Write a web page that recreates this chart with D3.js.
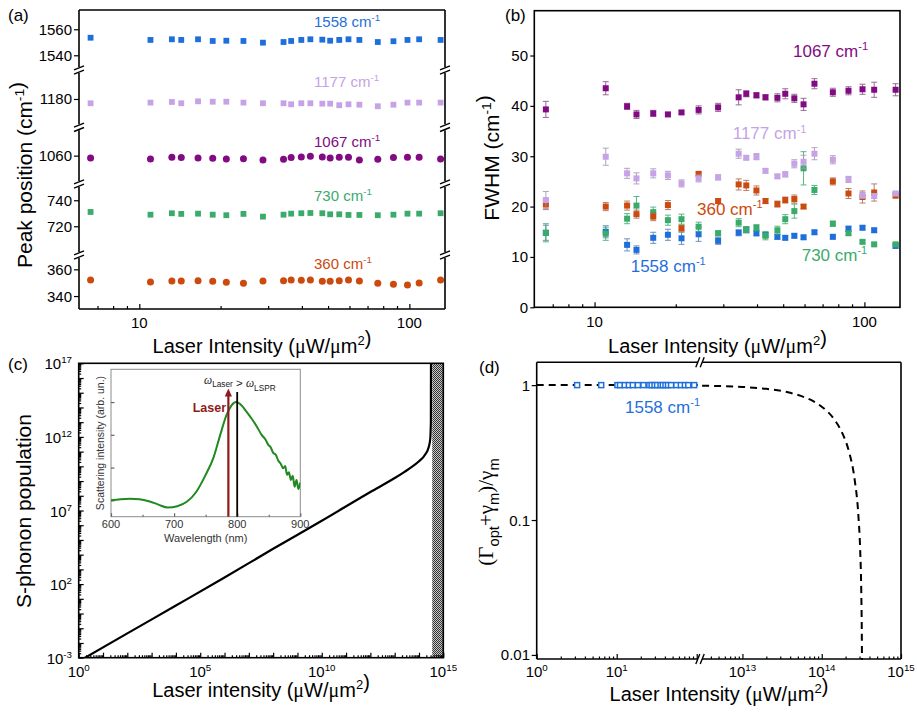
<!DOCTYPE html>
<html>
<head>
<meta charset="utf-8">
<script src="https://cdn.jsdelivr.net/npm/d3@7"></script>
<style>
  body { margin: 0; background: #fff; }
  svg { display: block; font-family: Arial, "Liberation Sans", sans-serif; }
</style>
</head>
<body>
<svg id="fig" width="917" height="713"></svg>
<script>
// ---- data ----
// laser intensities (uW/um^2) used in panels (a) and (b)
const intensity = [6.6, 11.0, 13.2, 14.3, 16.5, 18.7, 21.0, 24.3, 28.7, 34.2, 36.5, 39.8, 43.0, 47.6, 50.9, 55.0, 59.5, 65.3, 76.4, 87.3, 98.4, 108.7, 130.5]

// (a) peak positions (cm-1)
const pos1558 = [1553.5, 1551.8, 1552.3, 1551.8, 1552.3, 1551.0, 1551.2, 1551.0, 1549.7, 1550.2, 1551.0, 1551.8, 1552.3, 1552.0, 1551.2, 1551.8, 1552.3, 1551.8, 1550.2, 1550.8, 1551.8, 1552.3, 1551.8]
const pos1177 = [1176.7, 1177.2, 1177.7, 1176.7, 1178.2, 1177.9, 1177.9, 1177.2, 1176.7, 1176.7, 1175.9, 1176.7, 1176.7, 1176.4, 1176.4, 1175.2, 1175.9, 1175.6, 1174.4, 1175.6, 1177.2, 1177.2, 1177.2]
const pos1067 = [1058.2, 1057.5, 1058.8, 1058.5, 1058.2, 1058.0, 1057.5, 1057.7, 1056.7, 1057.2, 1058.5, 1059.0, 1059.5, 1059.0, 1058.2, 1058.8, 1058.8, 1056.7, 1057.2, 1058.5, 1058.8, 1058.8, 1057.5]
const pos730 = [731.0, 728.9, 730.0, 729.5, 729.7, 728.9, 728.5, 729.5, 727.4, 728.9, 729.7, 730.0, 730.2, 730.0, 729.2, 729.2, 728.7, 728.7, 728.5, 728.9, 729.7, 729.7, 730.0]
const pos360 = [352.0, 350.5, 351.2, 351.2, 351.5, 351.0, 350.3, 349.5, 351.2, 351.5, 352.0, 351.8, 352.0, 351.0, 351.0, 351.5, 352.0, 351.2, 349.5, 348.8, 348.2, 349.7, 352.0]
const peakTicks = [[1540, 1560], [1180], [1060], [720, 740], [340, 360]]

// (b) FWHM (cm-1) and error bars
const fw1067 = [39.3, 43.5, 39.9, 38.3, 38.5, 38.3, 38.7, 39.2, 39.7, 41.7, 42.4, 42.1, 41.7, 41.6, 42.4, 41.5, 40.3, 44.4, 42.7, 43.0, 43.3, 43.2, 43.2]
const err1067 = [1.6, 1.3, 0.6, 0.8, 0.6, 0.4, 0.3, 0.8, 0.8, 1.5, 0.6, 0.5, 0.5, 0.8, 1.0, 0.8, 1.2, 1.0, 0.8, 0.8, 1.0, 1.5, 1.2]
const fw1177 = [21.3, 29.9, 26.6, 25.6, 26.6, 26.2, 24.6, 25.6, 25.8, 30.5, 29.7, 29.9, 27.1, 26.0, 26.4, 28.5, 28.9, 30.5, 29.3, 25.4, 22.2, 22.1, 22.6]
const err1177 = [1.7, 1.7, 1.0, 1.1, 0.9, 0.8, 0.7, 0.7, 0.5, 0.9, 0.4, 0.6, 0.4, 0.4, 0.5, 0.8, 1.3, 1.2, 0.8, 0.6, 0.6, 0.5, 0.4]
const fw360 = [20.4, 20.0, 20.2, 18.5, 18.0, 20.3, 15.7, 26.5, 21.1, 24.4, 24.2, 23.2, 21.1, 20.5, 21.3, 21.5, 20.0, null, 25.0, 22.6, 21.9, 22.8, 22.2]
const err360 = [1.0, 0.8, 0.9, 0.8, 0.8, 0.9, 0.6, 0.4, 0.5, 1.1, 1.0, 0.9, 0.5, 0.6, 0.6, 0.8, 0.4, null, 0.7, 1.0, 1.2, 1.7, 0.5]
const fw730 = [14.8, 14.6, 17.6, 20.2, 18.9, 17.3, 17.5, 16.0, 14.7, 16.8, 15.4, 15.8, 14.2, 15.3, 17.5, 19.1, 27.6, 23.3, 16.6, 14.7, 13.0, 12.5, 12.5]
const err730 = [1.8, 1.3, 1.0, 1.8, 1.0, 1.0, 1.0, 0.9, 0.5, 0.8, 0.6, 0.6, 0.8, 0.8, 0.9, 1.4, 3.3, 0.9, 0.5, 0.4, 0.3, 0.3, 0.3]
const fw1558 = [14.8, 15.0, 12.4, 11.4, 13.8, 14.4, 13.7, 14.5, 13.2, 14.8, 15.4, 14.7, 14.4, 14.0, 13.8, 14.2, 13.9, 14.9, 14.0, 15.6, 15.8, 15.3, 12.2]
const err1558 = [1.5, 1.2, 1.2, 0.8, 1.1, 1.1, 1.2, 1.4, 0.7, 0.6, 0.6, 0.5, 0.5, 0.5, 0.4, 0.4, 0.4, 0.4, 0.4, 0.5, 0.4, 0.4, 0.5]
const fwhmTicks = [0, 10, 20, 30, 40, 50]

// (c) S-phonon population vs laser intensity
const popIntensity = [1, 1e2, 1e4, 1e6, 1e8, 1e10, 1e12, 1e13, 4e13, 1e14, 1.8e14, 2.5e14, 2.9e14, 3.08e14, 3.12e14]
const popValue = [5.6e-4, 0.045, 3.5, 280, 2.5e4, 2.0e6, 1.8e8, 1.6e9, 7.1e9, 2.2e10, 6.3e10, 2.0e11, 7.0e11, 1e13, 1e18]
const unstableFrom = 3.5e14
const popXExp = [0, 5, 10, 15]
const popYExp = [-3, 2, 7, 12, 17]

// (c) inset: scattering spectrum
const specWavelength = [600, 615, 630, 645, 660, 675, 690, 705, 720, 735, 750, 762, 773, 783, 791, 798, 807, 815, 823, 831, 839, 845, 849, 853, 857, 861, 865, 869, 873, 876, 879, 882, 885, 888, 891, 894, 897, 900]
const specIntensity = [10, 10.8, 11.2, 10.8, 9.4, 7.4, 6.0, 6.6, 9.0, 18, 60, 190, 980, 4000, 7900, 10000, 7900, 5000, 3100, 1800, 980, 710, 500, 420, 280, 250, 165, 130, 95, 112, 60, 72, 42, 56, 26, 42, 22, 35]
const laserWavelength = 786
const lsprWavelength = 800
const specTicks = [600, 700, 800, 900]

// (d) normalised linewidth
const ratioLowI = [1, 103]
const ratioLow = [1, 1]
const ratioHighI = [3.1e12, 1e13, 2e13, 4e13, 6e13, 8e13, 1e14, 1.4e14, 1.8e14, 2.2e14, 2.6e14, 2.9e14, 3.05e14, 3.15e14, 3.2e14, 3.22e14]
const ratioHigh = [0.990, 0.969, 0.938, 0.877, 0.815, 0.754, 0.692, 0.569, 0.446, 0.323, 0.2, 0.108, 0.0615, 0.0308, 0.0154, 0.0092]
const blueI = [3.2, 6.4, 10.2, 11.0, 12.6, 14.2, 15.9, 18.4, 21.6, 25.6, 27.3, 29.7, 32.0, 35.3, 37.7, 40.7, 43.8, 47.8, 55.7, 63.4, 71.2, 78.5, 93]
const blueRatio = [1, 1, 1, 1, 1, 1, 1, 1, 1, 1, 1, 1, 1, 1, 1, 1, 1, 1, 1, 1, 1, 1, 1]
const ratioTicks = [1, 0.1, 0.01]
const ratioTickLabels = ["1", "0.1", "0.01"]

const colors = { 1558: "#1f6fdb", 1177: "#c6a2e6", 1067: "#820a82", 730: "#3bab6c", 360: "#cc4a0e" }

// ---- helpers ----
const svg = d3.select("#fig")
const defs = svg.append("defs")

function rich(g, x, y, parts, size, opts = {}) {
  const t = g.append("text").attr("x", x).attr("y", y)
    .attr("font-size", size)
    .attr("text-anchor", opts.anchor || "start")
    .attr("fill", opts.color || "#000")
  if (opts.rotate) t.attr("transform", `rotate(-90,${x},${y})`)
  if (opts.weight) t.attr("font-weight", opts.weight)
  if (opts.family) t.attr("font-family", opts.family)
  let cur = 0
  parts.forEach(p => {
    const [s, kind, fam, style] = Array.isArray(p) ? p : [p, ""]
    const off = kind === "sup" ? -0.4 * size : kind === "sub" ? 0.3 * size : 0
    const ts = t.append("tspan").text(s).attr("dy", off - cur)
    if (kind) ts.attr("font-size", size * (opts.small || 0.65))
    if (fam) ts.attr("font-family", fam)
    if (style) ts.attr("font-style", style)
    cur = off
  })
  return t
}

function ticks(g, axis, scale, values, size, tx, ty, color = "#000") {
  const a = g.append("g").attr("transform", `translate(${tx},${ty})`)
    .call(axis(scale).tickValues(values).tickSize(size).tickSizeOuter(0).tickFormat(""))
  a.select(".domain").remove()
  a.selectAll("line").attr("stroke", color).attr("stroke-width", 1.2)
  return a
}

function logMinors(lo, hi) {
  const out = []
  for (let e = Math.floor(Math.log10(lo)); e <= Math.ceil(Math.log10(hi)); e++) {
    for (let k = 2; k <= 9; k++) {
      const v = k * Math.pow(10, e)
      if (v > lo * 1.001 && v < hi * 0.999) out.push(v)
    }
  }
  return out
}

function line(g, x1, y1, x2, y2, w = 1.6) {
  g.append("line").attr("x1", x1).attr("y1", y1).attr("x2", x2).attr("y2", y2)
    .attr("stroke", "#000").attr("stroke-width", w)
}

function breakMarkV(g, x, b) {
  // slanted "//" on a vertical axis
  [-2.2, 2.2].forEach(o => line(g, x - 5, b + o + 2, x + 5, b + o - 2, 1.4))
}
function breakMarkH(g, b, y) {
  [-2.2, 2.2].forEach(o => line(g, b + o - 2, y + 5, b + o + 2, y - 5, 1.4))
}

function marker(g, shape, x, y, size, fill, stroke, sw = 1.2) {
  if (shape === "circle") {
    g.append("circle").attr("cx", x).attr("cy", y).attr("r", size / 2 + 0.6)
      .attr("fill", fill).attr("stroke", stroke || "none")
  } else {
    g.append("rect").attr("x", x - size / 2).attr("y", y - size / 2)
      .attr("width", size).attr("height", size)
      .attr("fill", fill).attr("stroke", stroke || "none").attr("stroke-width", stroke ? sw : 0)
  }
}

const intensityTitle = ["Laser Intensity (", ["\u03bc", "", "'Liberation Serif', serif"], "W/", ["\u03bc", "", "'Liberation Serif', serif"], "m", ["2", "sup"], ["", ""], ")"]

// ---- panel (a): peak positions with broken y axis ----
const gA = svg.append("g")
const xA = d3.scaleLog().domain([5.98, 135.5]).range([79, 445])
const segRanges = [[67, 10], [124.3, 73], [181, 130.3], [252, 187], [309, 258]]
const segDomains = [[1531, 1574.8], [1160.5, 1200], [1040.5, 1079.5], [700.2, 750.2], [330.3, 368.5]]
const segScales = segDomains.map((d, i) => d3.scaleLinear().domain(d).range(segRanges[i]))

line(gA, 79, 10, 445, 10)
line(gA, 79, 309, 445, 309)
segRanges.forEach(r => {
  line(gA, 79, r[1], 79, r[0])
  line(gA, 445, r[1], 445, r[0])
})
for (let i = 0; i < 4; i++) {
  const b = (segRanges[i][0] + segRanges[i + 1][1]) / 2
  breakMarkV(gA, 79, b)
  breakMarkV(gA, 445, b)
}
segScales.forEach((s, i) => {
  ticks(gA, d3.axisLeft, s, peakTicks[i], 5, 79, 0)
  peakTicks[i].forEach(v => rich(gA, 72, s(v) + 5.5, [String(v)], 15, { anchor: "end" }))
})
ticks(gA, d3.axisBottom, xA, [10, 100], -5, 0, 309)
ticks(gA, d3.axisBottom, xA, logMinors(6.5, 135), -3, 0, 309)
;[10, 100].forEach(v => rich(gA, xA(v), 328, [String(v)], 15, { anchor: "middle" }))

const peakSeries = [
  { mode: 1558, data: pos1558, seg: 0, shape: "square" },
  { mode: 1177, data: pos1177, seg: 1, shape: "square" },
  { mode: 1067, data: pos1067, seg: 2, shape: "circle" },
  { mode: 730, data: pos730, seg: 3, shape: "square" },
  { mode: 360, data: pos360, seg: 4, shape: "circle" }
]
peakSeries.forEach(s => {
  s.data.forEach((v, i) => marker(gA, s.shape, xA(intensity[i]), segScales[s.seg](v), 5.8, colors[s.mode]))
})
const peakLabelY = [26.7, 87.3, 147.3, 201, 269]
peakSeries.forEach((s, i) => rich(gA, 314, peakLabelY[i], [s.mode + " cm", ["-1", "sup"]], 15, { color: colors[s.mode] }))

rich(gA, 262, 353, intensityTitle, 20, { anchor: "middle" })
rich(gA, 32, 175, ["Peak position (cm", ["-1", "sup"], ["", ""], ")"], 21, { anchor: "middle", rotate: true })
rich(gA, 8, 21, ["(a)"], 17)

// ---- panel (b): FWHM ----
const gB = svg.append("g")
const xB = xA.copy().range([534.3, 900])
const yB = d3.scaleLinear().domain([0, 58.9]).range([307.3, 10.7])
gB.append("rect").attr("x", 534.3).attr("y", 10.7).attr("width", 900 - 534.3).attr("height", 307.3 - 10.7)
  .attr("fill", "none").attr("stroke", "#000").attr("stroke-width", 1.6)
ticks(gB, d3.axisLeft, yB, fwhmTicks, 4, 534.3, 0)
fwhmTicks.forEach(v => rich(gB, 528, yB(v) + 5.5, [String(v)], 15, { anchor: "end" }))
ticks(gB, d3.axisBottom, xB, [10, 100], -5, 0, 307.3)
ticks(gB, d3.axisBottom, xB, logMinors(6.5, 135), -3, 0, 307.3)
;[10, 100].forEach(v => rich(gB, xB(v), 327, [String(v)], 15, { anchor: "middle" }))

const fwSeries = [
  { mode: 1558, data: fw1558, err: err1558 },
  { mode: 730, data: fw730, err: err730 },
  { mode: 360, data: fw360, err: err360 },
  { mode: 1177, data: fw1177, err: err1177 },
  { mode: 1067, data: fw1067, err: err1067 }
]
fwSeries.forEach(s => {
  const c = colors[s.mode]
  const ec = s.mode === 730 ? c : d3.interpolateRgb(c, "#8a8a8a")(0.55)
  s.data.forEach((v, i) => {
    if (v === null) return
    const x = xB(intensity[i])
    const lo = yB(v - s.err[i]), hi = yB(v + s.err[i])
    const eg = gB.append("g").attr("stroke", ec).attr("stroke-width", 1).attr("opacity", 0.85)
    eg.append("line").attr("x1", x).attr("x2", x).attr("y1", lo).attr("y2", hi)
    eg.append("line").attr("x1", x - 3).attr("x2", x + 3).attr("y1", lo).attr("y2", lo)
    eg.append("line").attr("x1", x - 3).attr("x2", x + 3).attr("y1", hi).attr("y2", hi)
  })
  s.data.forEach((v, i) => {
    if (v === null) return
    marker(gB, "square", xB(intensity[i]), yB(v), 6, c)
  })
})
rich(gB, 793, 57, ["1067 cm", ["-1", "sup"]], 17, { color: colors[1067] })
rich(gB, 732.7, 139.3, ["1177 cm", ["-1", "sup"]], 17, { color: colors[1177] })
rich(gB, 697, 215, ["360 cm", ["-1", "sup"]], 17, { color: colors[360] })
rich(gB, 801.7, 261, ["730 cm", ["-1", "sup"]], 17, { color: colors[730] })
rich(gB, 630.7, 271.7, ["1558 cm", ["-1", "sup"]], 17, { color: colors[1558] })

rich(gB, 717.5, 353, intensityTitle, 20, { anchor: "middle" })
rich(gB, 499.3, 158, ["FWHM (cm", ["-1", "sup"], ["", ""], ")"], 21, { anchor: "middle", rotate: true })
rich(gB, 505, 21, ["(b)"], 17)

// ---- panel (c): phonon population ----
const gC = svg.append("g")
const xC = d3.scaleLog().domain([1, 1e15]).range([78.7, 443.3])
const yC = d3.scaleLog().domain([1e-3, 1e17]).range([657.7, 363.3])

const pat = defs.append("pattern").attr("id", "hatch").attr("width", 2).attr("height", 2)
  .attr("patternUnits", "userSpaceOnUse")
pat.append("rect").attr("width", 2).attr("height", 2).attr("fill", "#c8c8c8")
pat.append("rect").attr("width", 1).attr("height", 1).attr("fill", "#333")
pat.append("rect").attr("x", 1).attr("y", 1).attr("width", 1).attr("height", 1).attr("fill", "#333")
gC.append("rect").attr("x", xC(unstableFrom)).attr("y", 363.3)
  .attr("width", 443.3 - xC(unstableFrom)).attr("height", 657.7 - 363.3).attr("fill", "url(#hatch)")

defs.append("clipPath").attr("id", "clipC").append("rect")
  .attr("x", 78.7).attr("y", 363.3).attr("width", 443.3 - 78.7).attr("height", 657.7 - 363.3)
const popPts = popIntensity.map((v, i) => [v, popValue[i]])
gC.append("path").datum(popPts).attr("clip-path", "url(#clipC)")
  .attr("d", d3.line().x(d => xC(d[0])).y(d => yC(d[1])).curve(d3.curveMonotoneX))
  .attr("fill", "none").attr("stroke", "#000").attr("stroke-width", 2.2)

const decadesX = d3.range(0, 16).map(e => Math.pow(10, e))
const decadesY = d3.range(-3, 18).map(e => Math.pow(10, e))
ticks(gC, d3.axisBottom, xC, decadesX, -5, 0, 657.7)
ticks(gC, d3.axisBottom, xC, logMinors(1, 1e15), -2.5, 0, 657.7)
ticks(gC, d3.axisLeft, yC, decadesY, -5, 78.7, 0)
ticks(gC, d3.axisLeft, yC, logMinors(1e-3, 1e17), -2.5, 78.7, 0)
gC.append("rect").attr("x", 78.7).attr("y", 363.3).attr("width", 443.3 - 78.7).attr("height", 657.7 - 363.3)
  .attr("fill", "none").attr("stroke", "#000").attr("stroke-width", 1.6)
popXExp.forEach(e => rich(gC, xC(Math.pow(10, e)), 677, ["10", [String(e), "sup"]], 15, { anchor: "middle" }))
popYExp.forEach(e => rich(gC, 72, yC(Math.pow(10, e)) + 6, ["10", [String(e), "sup"]], 15, { anchor: "end" }))

// inset spectrum
const gI = gC.append("g")
const xI = d3.scaleLinear().domain([600, 900]).range([111, 300.3])
const yI = d3.scaleLog().domain([Math.pow(10, 0.5), 1e5]).range([516.7, 369.3])
gI.append("rect").attr("x", 111).attr("y", 369.3).attr("width", 300.3 - 111).attr("height", 516.7 - 369.3)
  .attr("fill", "#fff").attr("stroke", "#8c8c8c").attr("stroke-width", 1)
ticks(gI, d3.axisBottom, xI, specTicks, -3.5, 0, 516.7, "#666")
ticks(gI, d3.axisBottom, xI, [650, 750, 850], -2, 0, 516.7, "#666")
ticks(gI, d3.axisLeft, yI, [10, 100, 1000, 10000], -3.5, 111, 0, "#666")
defs.append("clipPath").attr("id", "clipI").append("rect")
  .attr("x", 111).attr("y", 369.3).attr("width", 300.3 - 111).attr("height", 516.7 - 369.3)
gI.append("path").datum(specWavelength.map((w, i) => [w, specIntensity[i]]))
  .attr("clip-path", "url(#clipI)")
  .attr("d", d3.line().x(d => xI(d[0])).y(d => yI(d[1])).curve(d3.curveMonotoneX))
  .attr("fill", "none").attr("stroke", "#1f8a1f").attr("stroke-width", 2)
const ax = xI(laserWavelength)
gI.append("line").attr("x1", ax).attr("x2", ax).attr("y1", 516.7).attr("y2", 395)
  .attr("stroke", "#8e1b1b").attr("stroke-width", 2.2)
gI.append("path").attr("d", `M${ax},388.5 L${ax - 3.6},396.5 L${ax + 3.6},396.5 Z`).attr("fill", "#8e1b1b")
const lx = xI(lsprWavelength)
gI.append("line").attr("x1", lx).attr("x2", lx).attr("y1", 516.7).attr("y2", 392)
  .attr("stroke", "#000").attr("stroke-width", 1.8)
rich(gI, 192.7, 412, ["Laser"], 12.5, { color: "#8e1b1b", weight: "bold" })
rich(gI, 204, 384, [["\u03c9", "", "'Liberation Serif', serif", "italic"], ["Laser", "sub"], ["", ""], " > ",
  ["\u03c9", "", "'Liberation Serif', serif", "italic"], ["LSPR", "sub"]], 11.5, { color: "#222", small: 0.72 })
specTicks.forEach(v => rich(gI, xI(v), 527.5, [String(v)], 11, { anchor: "middle", color: "#333" }))
rich(gI, 205.7, 542, ["Wavelength (nm)"], 11, { anchor: "middle", color: "#333" })
rich(gI, 103.5, 443, ["Scattering intensity (arb. un.)"], 10.5, { anchor: "middle", rotate: true, color: "#333" })

rich(gC, 261, 697, ["Laser intensity (", ["\u03bc", "", "'Liberation Serif', serif"], "W/", ["\u03bc", "", "'Liberation Serif', serif"], "m", ["2", "sup"], ["", ""], ")"], 20, { anchor: "middle" })
rich(gC, 31, 511, ["S-phonon population"], 21, { anchor: "middle", rotate: true })
rich(gC, 8, 370, ["(c)"], 17)

// ---- panel (d): (Gamma_opt + gamma_m)/gamma_m with broken x axis ----
const gD = svg.append("g")
const xD1 = d3.scaleLog().domain([1, 103.8]).range([536.7, 698])
const xD2 = d3.scaleLog().domain([3.09e12, 1e15]).range([702, 901])
const yD = d3.scaleLog().domain([0.00933, 1.476]).range([659, 362.3])

line(gD, 536.7, 362.3, 536.7, 659)
line(gD, 901, 362.3, 901, 659)
line(gD, 536.7, 362.3, 698, 362.3)
line(gD, 702, 362.3, 901, 362.3)
line(gD, 536.7, 659, 698, 659)
line(gD, 702, 659, 901, 659)
breakMarkH(gD, 700, 362.3)
breakMarkH(gD, 700, 659)

ticks(gD, d3.axisBottom, xD1, [1, 10, 100], -5, 0, 659)
ticks(gD, d3.axisBottom, xD1, logMinors(1, 100), -2.5, 0, 659)
ticks(gD, d3.axisBottom, xD2, [1e13, 1e14, 1e15], -5, 0, 659)
ticks(gD, d3.axisBottom, xD2, logMinors(3.2e12, 1e15), -2.5, 0, 659)
ticks(gD, d3.axisLeft, yD, ratioTicks, 5, 536.7, 0)
ratioTicks.forEach((v, i) => rich(gD, 530, yD(v) + 5.5, [ratioTickLabels[i]], 15, { anchor: "end" }))
;[[xD1, 1, "0"], [xD1, 10, "1"], [xD2, 1e13, "13"], [xD2, 1e14, "14"], [xD2, 1e15, "15"]].forEach(([s, v, e]) =>
  rich(gD, s(v), 677, ["10", [e, "sup"]], 15, { anchor: "middle" }))

const dashLine = d3.line().curve(d3.curveMonotoneX)
gD.append("path").attr("d", dashLine(ratioLowI.map((v, i) => [xD1(v), yD(ratioLow[i])])))
  .attr("fill", "none").attr("stroke", "#000").attr("stroke-width", 2).attr("stroke-dasharray", "7,5")
gD.append("path").attr("d", dashLine(ratioHighI.map((v, i) => [xD2(v), yD(ratioHigh[i])])))
  .attr("fill", "none").attr("stroke", "#000").attr("stroke-width", 2).attr("stroke-dasharray", "7,5")
blueI.forEach((v, i) => marker(gD, "square", xD1(v), yD(blueRatio[i]), 5, "#fff", colors[1558], 1.5))
rich(gD, 625, 412.7, ["1558 cm", ["-1", "sup"]], 17, { color: colors[1558] })

rich(gD, 719, 701, intensityTitle, 20, { anchor: "middle" })
const serif = "'Liberation Serif', 'Times New Roman', serif"
rich(gD, 493, 512, [["(\u0393", "", serif], ["opt", "sub"], ["+\u03b3", "", serif], ["m", "sub"], [")/\u03b3", "", serif], ["m", "sub"]], 21, { anchor: "middle", rotate: true, small: 0.7 })
rich(gD, 479, 373, ["(d)"], 17)
</script>
</body>
</html>
